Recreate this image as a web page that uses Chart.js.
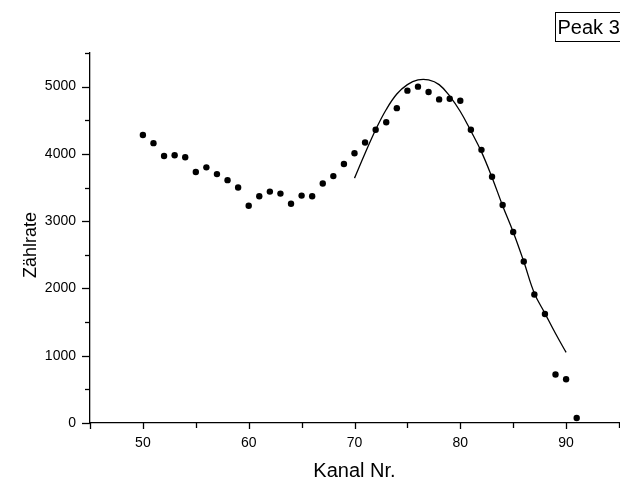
<!DOCTYPE html>
<html>
<head>
<meta charset="utf-8">
<script src="https://cdn.jsdelivr.net/npm/chart.js@4/dist/chart.umd.min.js"></script>
<style>
  html, body { margin: 0; padding: 0; background: #fff; overflow: hidden; }
  #wrap { width: 620px; height: 483px; overflow: hidden; }
</style>
</head>
<body>
<div id="wrap"><canvas id="c" width="623" height="483"></canvas></div>
<script>
// Measured data points (channel, count rate)
const channels = [50,51,52,53,54,55,56,57,58,59,60,61,62,63,64,65,66,67,68,69,70,71,72,73,74,75,76,77,78,79,80,81,82,83,84,85,86,87,88,89,90,91];
const counts = [4280,4160,3970,3980,3950,3730,3800,3700,3610,3500,
                3230,3370,3440,3410,3260,3380,3370,3560,3670,3850,
                4010,4170,4360,4470,4680,4940,5000,4920,4810,4820,
                4790,4360,4060,3660,3240,2840,2400,1910,1620,720,
                650,75];
// Fit curve
const fitChannels = [70,71,72,73,74,75,76,77,78,79,80,81,82,83,84,85,86,87,88,89,90];
const fitValues = [3640,4010,4360,4660,4890,5030,5100,5100,5030,4860,4630,4340,4030,3650,3230,2840,2400,1930,1630,1330,1050];
// Axis ticks and texts
const xLabelTicks = [50,60,70,80,90];
const yLabelTicks = [0,1000,2000,3000,4000,5000];
const xTitle = 'Kanal Nr.';
const yTitle = 'Zählrate';
const boxText = 'Peak 3';

const FONT = "'Liberation Sans', Arial, Helvetica, sans-serif";

const pointData = channels.map((c, i) => ({x: c, y: counts[i]}));
const fitData = fitChannels.map((c, i) => ({x: c, y: fitValues[i]}));

const decor = {
  id: 'decor',
  afterDraw(chart) {
    const ctx = chart.ctx;
    const xs = chart.scales.x, ys = chart.scales.y;
    const area = chart.chartArea;
    ctx.save();
    ctx.strokeStyle = '#000';
    ctx.lineWidth = 1.3;
    // y ticks
    ys.ticks.forEach(t => {
      const py = Math.round(ys.getPixelForValue(t.value)) + 0.5;
      const len = yLabelTicks.includes(t.value) ? 8 : 5;
      ctx.beginPath();
      ctx.moveTo(area.left - len, py);
      ctx.lineTo(area.left, py);
      ctx.stroke();
    });
    // x ticks
    xs.ticks.forEach(t => {
      const px = Math.round(xs.getPixelForValue(t.value)) + 0.5;
      const len = (t.value % 10 === 0 || t.value === 45) ? 6 : 5;
      ctx.beginPath();
      ctx.moveTo(px, area.bottom);
      ctx.lineTo(px, area.bottom + len);
      ctx.stroke();
    });
    // y title
    ctx.fillStyle = '#000';
    ctx.font = '18px ' + FONT;
    ctx.textAlign = 'center';
    ctx.textBaseline = 'alphabetic';
    ctx.translate(36, 245);
    ctx.rotate(-Math.PI / 2);
    ctx.fillText(yTitle, 0, 0);
    ctx.setTransform(1, 0, 0, 1, 0, 0);
    // Peak box
    ctx.lineWidth = 1;
    ctx.strokeRect(555.5, 12.5, 80, 29);
    ctx.font = '20px ' + FONT;
    ctx.textAlign = 'left';
    ctx.fillText(boxText, 557.5, 34);
    ctx.restore();
  }
};

new Chart(document.getElementById('c'), {
  type: 'scatter',
  data: {
    datasets: [
      {
        data: pointData,
        backgroundColor: '#000',
        borderColor: '#000',
        pointRadius: 3.2,
        pointBorderWidth: 0,
        showLine: false
      },
      {
        data: fitData,
        showLine: true,
        borderColor: '#000',
        borderWidth: 1.3,
        pointRadius: 0,
        tension: 0.4,
        fill: false
      }
    ]
  },
  options: {
    responsive: false,
    animation: false,
    devicePixelRatio: 1,
    layout: { padding: { left: 0, right: 0, top: 53, bottom: 0 } },
    plugins: { legend: { display: false }, tooltip: { enabled: false } },
    scales: {
      x: {
        type: 'linear',
        min: 45, max: 95,
        grid: { display: false, drawTicks: false },
        border: { display: true, color: '#000', width: 1.3 },
        ticks: {
          stepSize: 5,
          autoSkip: false,
          maxRotation: 0,
          padding: 12,
          color: '#000',
          font: { family: FONT, size: 14 },
          callback: v => xLabelTicks.includes(v) ? String(v) : ''
        },
        title: {
          display: true, text: xTitle, color: '#000',
          font: { family: FONT, size: 20 },
          padding: { top: 0, bottom: 0 }
        },
        afterFit: s => { s.height = 60; s.paddingLeft = 0; s.paddingRight = 0; }
      },
      y: {
        type: 'linear',
        min: 0, max: 5500,
        grid: { display: false, drawTicks: false },
        border: { display: true, color: '#000', width: 1.3 },
        ticks: {
          stepSize: 500,
          autoSkip: false,
          padding: 14,
          color: '#000',
          font: { family: FONT, size: 14 },
          callback: v => yLabelTicks.includes(v) ? String(v) : ''
        },
        afterFit: s => { s.width = 90; s.paddingTop = 0; s.paddingBottom = 0; }
      }
    }
  },
  plugins: [decor]
});
</script>
</body>
</html>
